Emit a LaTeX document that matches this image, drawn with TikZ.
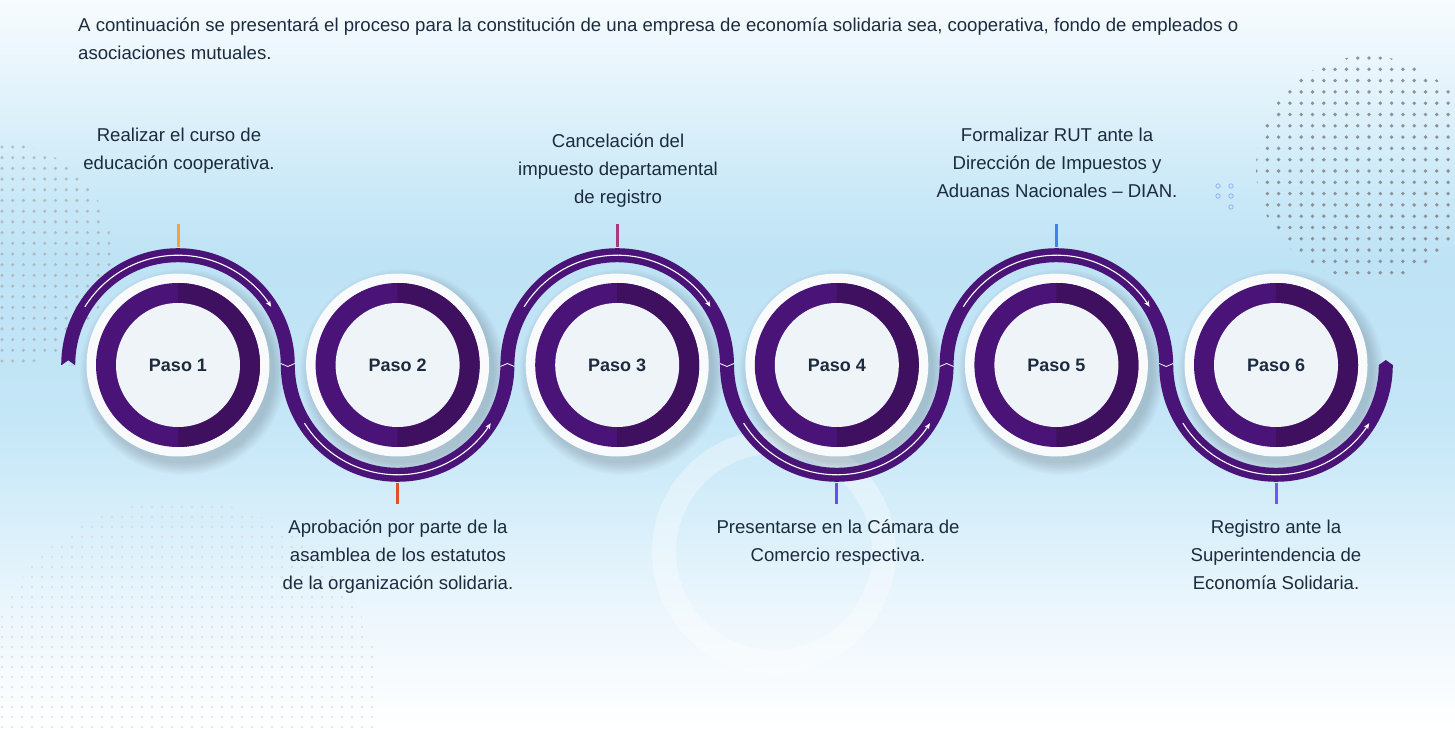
\documentclass[tikz,border=0pt]{standalone}
\usepackage{fontspec}
\setmainfont{Liberation Sans}
\usetikzlibrary{arrows.meta}
\definecolor{ribbon}{HTML}{4A1377}
\definecolor{ringdark}{HTML}{3F1060}
\definecolor{disk}{HTML}{EEF4F7}
\definecolor{rim}{HTML}{F8FAFC}
\definecolor{ink}{HTML}{1C2B3E}
\definecolor{dots}{HTML}{8C9297}
\definecolor{notch}{HTML}{C2E5F6}
\definecolor{tickA}{HTML}{F2A33A}
\definecolor{tickB}{HTML}{E0502F}
\definecolor{tickC}{HTML}{A8397E}
\definecolor{tickD}{HTML}{6B4EE6}
\definecolor{tickE}{HTML}{3C82F0}
\definecolor{tickF}{HTML}{6A5AEE}
\definecolor{sky0}{RGB}{247,251,254}
\definecolor{sky1}{RGB}{232,245,252}
\definecolor{sky2}{RGB}{205,234,248}
\definecolor{sky3}{RGB}{190,227,245}
\definecolor{sky4}{RGB}{196,230,247}
\definecolor{sky5}{RGB}{216,239,250}
\definecolor{sky6}{RGB}{238,247,253}

\begin{document}
\begin{tikzpicture}[x=1pt, y=1pt,
    paso/.style={circle, fill=disk, minimum size=124pt, inner sep=0pt, text=ink, font=\fontsize{18}{20}\selectfont\bfseries},
    label/.style={align=center, text=ink, font=\fontsize{18.6}{28}\selectfont},
    band/.style={draw=ribbon, line width=14pt},
    flow/.style={white, line width=1.1pt, -{Stealth[length=6pt, width=5pt]}},
    joint/.style={white, line width=0.8pt},
    tick/.style={line width=3pt, draw=#1}
]
    \useasboundingbox (0,0) rectangle (1455,729);
    % background
    \shade[top color=sky0, bottom color=sky1] (0,658.5) rectangle (1455,729);
    \shade[top color=sky1, bottom color=sky2] (0,548.5) rectangle (1455,659);
    \shade[top color=sky2, bottom color=sky3] (0,468.5) rectangle (1455,549);
    \shade[top color=sky3, bottom color=sky4] (0,308.5) rectangle (1455,469);
    \shade[top color=sky4, bottom color=sky5] (0,208.5) rectangle (1455,309);
    \shade[top color=sky5, bottom color=sky6] (0,108.5) rectangle (1455,209);
    \shade[top color=sky6, bottom color=white] (0,0) rectangle (1455,109);

    % decoration
    \draw[white, opacity=.35, line width=24pt] (774,177) circle (110);
    \begin{scope}
        \clip (1368,561) circle (112);
        \foreach \i in {0,...,18} \foreach \j in {0,...,20}
            \fill[dots] (1256+11.3*\i, 671-11.3*\j) circle (1.9);
    \end{scope}
    \begin{scope}
        \clip (0,474) circle (112);
        \foreach \i in {0,...,11} \foreach \j in {0,...,20}
            \fill[dots!75!white, opacity=.75] (2+10.7*\i, 582-10.7*\j) circle (1.7);
    \end{scope}
    \begin{scope}
        \clip (180,29) circle (200);
        \foreach \i in {0,...,38} \foreach \j in {0,...,23}
            \fill[dots!45!white, opacity=.5] (2+10*\i, 2+10*\j) circle (1.3);
    \end{scope}
    \foreach \p in {(1218,543), (1231,543), (1218,533), (1231,533), (1231,522)}
        \draw[tickE!60!white, line width=0.8pt] \p circle (2.2);

    % circle shadows
    \foreach \i in {1,...,6}
        \foreach \k in {1,...,8}
            \fill[black, opacity=.018] (178+219.6*\i-219.6+5, 357) circle (90+\k*1.6);

    % ribbon
    \draw[band] (68.2,364) \foreach \k in {1,2,3} {
        arc[start angle=180, end angle=0, radius=109.8]
        arc[start angle=180, end angle=360, radius=109.8] };
    \fill[notch] (61.2,363.5) -- (68.2,368.5) -- (75.2,363.5) -- cycle;
    \fill[ribbon] (1378.8,364) -- (1385.8,369) -- (1392.8,364) -- cycle;

    % steps
    \foreach \i in {1,...,6} {
        \pgfmathsetmacro{\cx}{178+219.6*(\i-1)}
        \fill[rim] (\cx,364) circle (91.5);
        \fill[ribbon] (\cx,364) circle (82);
        \fill[ringdark] (\cx,446) arc[start angle=90, end angle=-90, radius=82] -- cycle;
        \node[paso] (paso\i) at (\cx,364) {Paso \i};
    }

    % arrows on the ribbon
    \foreach \i in {1,3,5}
        \draw[flow] ([shift={(148:109.8)}]paso\i.center) arc[start angle=148, end angle=32, radius=109.8];
    \foreach \i in {2,4,6}
        \draw[flow] ([shift={(212:109.8)}]paso\i.center) arc[start angle=212, end angle=328, radius=109.8];
    \foreach \i in {1,3,5}
        \draw[joint] ([shift={(102.8,1.5)}]paso\i.center) -- ([shift={(109.8,-1.5)}]paso\i.center) -- ([shift={(116.8,1.5)}]paso\i.center);
    \foreach \i in {2,4}
        \draw[joint] ([shift={(102.8,-1.5)}]paso\i.center) -- ([shift={(109.8,1.5)}]paso\i.center) -- ([shift={(116.8,-1.5)}]paso\i.center);

    % texts
    \node[anchor=north west, inner sep=0pt, align=left, text=ink, font=\fontsize{18.6}{28}\selectfont] (intro) at (78,711)
        {A continuación se presentará el proceso para la constitución de una empresa de economía solidaria sea, cooperativa, fondo de empleados o\\asociaciones mutuales.};
    \node[label] (lbl1) at (179,578) {Realizar el curso de\\educación cooperativa.};
    \node[label] (lbl2) at (398,172) {Aprobación por parte de la\\asamblea de los estatutos\\de la organización solidaria.};
    \node[label] (lbl3) at (618,558) {Cancelación del\\impuesto departamental\\de registro};
    \node[label] (lbl4) at (838,186) {Presentarse en la Cámara de\\Comercio respectiva.};
    \node[label] (lbl5) at (1057,566) {Formalizar RUT ante la\\Dirección de Impuestos y\\Aduanas Nacionales -- DIAN.};
    \node[label] (lbl6) at (1276,174) {Registro ante la\\Superintendencia de\\Economía Solidaria.};

    % ticks
    \draw[tick=tickA] ([yshift=118pt]paso1.center) -- ([yshift=141pt]paso1.center);
    \draw[tick=tickB] ([yshift=-118pt]paso2.center) -- ([yshift=-139pt]paso2.center);
    \draw[tick=tickC] ([yshift=118pt]paso3.center) -- ([yshift=141pt]paso3.center);
    \draw[tick=tickD] ([yshift=-118pt]paso4.center) -- ([yshift=-139pt]paso4.center);
    \draw[tick=tickE] ([yshift=118pt]paso5.center) -- ([yshift=141pt]paso5.center);
    \draw[tick=tickF] ([yshift=-118pt]paso6.center) -- ([yshift=-139pt]paso6.center);
\end{tikzpicture}
\end{document}
